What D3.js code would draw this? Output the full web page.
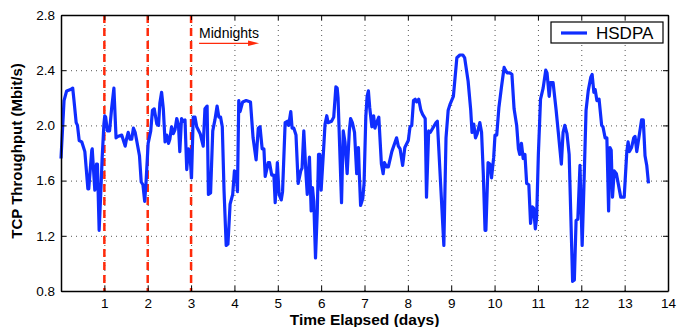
<!DOCTYPE html>
<html>
<head>
<meta charset="utf-8">
<script src="https://cdn.jsdelivr.net/npm/d3@7"></script>
<style>
  body { margin: 0; background: #fff; }
  svg { display: block; font-family: "Liberation Sans", Arial, sans-serif; }
</style>
</head>
<body>
<div id="chart"></div>
<script>
// elapsed time (days) and TCP throughput (Mbit/s)
var days = [0, 0.07, 0.13, 0.22, 0.27, 0.3, 0.35, 0.38, 0.42, 0.48, 0.55, 0.62, 0.64, 0.71, 0.72, 0.78, 0.82, 0.84, 0.88, 0.92,
  0.95, 0.99, 1.01, 1.03, 1.07, 1.12, 1.17, 1.22, 1.27, 1.31, 1.4, 1.48, 1.51, 1.55, 1.59, 1.63, 1.67, 1.71, 1.74, 1.81,
  1.85, 1.89, 1.93, 1.96, 2.01, 2.07, 2.11, 2.15, 2.21, 2.25, 2.28, 2.32, 2.36, 2.4, 2.44, 2.48, 2.51, 2.55, 2.59, 2.63,
  2.67, 2.71, 2.74, 2.78, 2.82, 2.86, 2.9, 2.94, 2.97, 3.01, 3.05, 3.09, 3.13, 3.21, 3.28, 3.32, 3.37, 3.4, 3.45, 3.5,
  3.55, 3.6, 3.64, 3.68, 3.72, 3.76, 3.81, 3.85, 3.9, 3.96, 4.0, 4.04, 4.07, 4.1, 4.13, 4.19, 4.27, 4.37, 4.43, 4.5,
  4.55, 4.59, 4.64, 4.68, 4.71, 4.78, 4.81, 4.86, 4.91, 4.94, 4.99, 5.03, 5.08, 5.11, 5.17, 5.22, 5.25, 5.3, 5.33, 5.37,
  5.42, 5.47, 5.53, 5.56, 5.6, 5.65, 5.68, 5.73, 5.77, 5.8, 5.83, 5.87, 5.91, 5.94, 5.97, 6.0, 6.05, 6.09, 6.13, 6.16,
  6.24, 6.29, 6.34, 6.37, 6.39, 6.47, 6.51, 6.55, 6.6, 6.65, 6.68, 6.72, 6.77, 6.82, 6.86, 6.88, 6.91, 6.96, 6.99, 7.03,
  7.06, 7.09, 7.12, 7.17, 7.21, 7.24, 7.28, 7.33, 7.39, 7.43, 7.46, 7.51, 7.55, 7.63, 7.74, 7.78, 7.82, 7.88, 7.93, 8.01,
  8.05, 8.09, 8.13, 8.17, 8.2, 8.25, 8.3, 8.34, 8.4, 8.43, 8.48, 8.52, 8.65, 8.68, 8.83, 8.88, 8.93, 8.97, 9.05, 9.13,
  9.2, 9.27, 9.31, 9.39, 9.45, 9.48, 9.52, 9.56, 9.6, 9.66, 9.7, 9.74, 9.78, 9.8, 9.85, 9.89, 9.93, 9.98, 10.01, 10.05,
  10.1, 10.16, 10.22, 10.25, 10.29, 10.35, 10.4, 10.45, 10.51, 10.55, 10.58, 10.62, 10.66, 10.7, 10.74, 10.79, 10.83, 10.87, 10.9, 10.94,
  10.97, 11.01, 11.06, 11.12, 11.18, 11.21, 11.26, 11.29, 11.35, 11.42, 11.47, 11.54, 11.58, 11.62, 11.67, 11.72, 11.8, 11.84, 11.88, 11.92,
  11.97, 12.02, 12.06, 12.11, 12.16, 12.22, 12.25, 12.29, 12.32, 12.36, 12.41, 12.47, 12.5, 12.55, 12.59, 12.63, 12.66, 12.69, 12.72, 12.76,
  12.81, 12.91, 12.95, 12.99, 13.05, 13.08, 13.11, 13.16, 13.21, 13.24, 13.28, 13.39, 13.43, 13.47, 13.51, 13.55];
var throughput = [1.76, 2.18, 2.25, 2.26, 2.27, 2.18, 2.02, 2.0, 1.89, 1.88, 1.81, 1.54, 1.54, 1.82, 1.83, 1.53, 1.72, 1.72, 1.24, 1.53,
  1.77, 2.01, 2.07, 2.06, 1.96, 1.96, 2.13, 2.27, 1.91, 1.92, 1.93, 1.85, 1.9, 1.95, 1.9, 1.9, 1.98, 1.95, 1.9, 1.78,
  1.59, 1.57, 1.45, 1.58, 1.87, 1.96, 2.11, 2.12, 2.01, 2.0, 2.16, 2.24, 2.12, 1.88, 1.93, 1.87, 1.9, 1.99, 1.94, 1.97,
  2.05, 2.0, 1.81, 2.05, 2.03, 2.04, 1.68, 1.83, 1.81, 1.62, 2.06, 2.06, 1.99, 1.94, 1.85, 2.12, 2.14, 1.5, 1.51, 1.96,
  2.04, 2.14, 2.06, 2.06, 1.99, 1.53, 1.13, 1.14, 1.43, 1.5, 1.67, 1.66, 1.52, 2.18, 2.1, 2.17, 2.18, 2.17, 1.91, 1.75,
  1.98, 1.99, 1.83, 1.83, 1.63, 1.73, 1.73, 1.64, 1.64, 1.44, 1.73, 1.5, 1.46, 1.52, 2.02, 2.03, 2.0, 2.1, 1.98, 1.98,
  1.93, 1.58, 1.67, 1.69, 1.96, 1.65, 1.5, 1.77, 1.38, 1.55, 1.45, 1.04, 1.37, 1.79, 1.79, 1.53, 1.79, 2.01, 2.07, 2.02,
  2.03, 2.06, 2.28, 2.27, 2.2, 1.44, 1.96, 1.88, 1.65, 1.96, 2.05, 2.02, 1.95, 1.65, 1.84, 1.65, 1.42, 1.47, 1.58, 2.06,
  2.21, 2.25, 2.13, 1.99, 2.07, 1.98, 2.02, 2.06, 1.72, 1.65, 1.73, 1.7, 1.7, 1.81, 1.91, 1.85, 1.83, 1.71, 1.84, 1.89,
  1.99, 2.0, 2.18, 2.19, 2.17, 2.19, 2.11, 2.08, 2.05, 1.48, 1.96, 1.95, 2.02, 2.03, 1.13, 1.91, 2.11, 2.15, 2.21, 2.49,
  2.51, 2.51, 2.49, 2.32, 2.11, 1.95, 2.01, 1.91, 1.94, 2.02, 1.95, 1.65, 1.24, 1.24, 1.73, 1.72, 1.62, 1.77, 1.93, 1.93,
  2.13, 2.28, 2.42, 2.4, 2.38, 2.38, 2.37, 2.12, 2.0, 1.83, 1.79, 1.87, 1.76, 1.79, 1.58, 1.57, 1.29, 1.41, 1.4, 1.25,
  1.33, 1.79, 2.19, 2.27, 2.4, 2.38, 2.21, 2.31, 2.31, 2.11, 1.95, 1.72, 1.95, 2.0, 1.94, 1.79, 0.87, 0.88, 1.31, 1.32,
  1.71, 1.13, 1.55, 2.11, 2.25, 2.35, 2.37, 2.24, 2.26, 2.18, 2.19, 2.0, 1.99, 1.91, 1.91, 1.38, 1.84, 1.82, 1.48, 1.67,
  1.65, 1.48, 1.48, 1.48, 1.81, 1.88, 1.81, 1.84, 1.91, 1.92, 1.81, 2.04, 2.04, 1.78, 1.71, 1.58];
var midnights = [1, 2, 3];
var xTicks = [1, 2, 3, 4, 5, 6, 7, 8, 9, 10, 11, 12, 13, 14];
var yTicks = [0.8, 1.2, 1.6, 2.0, 2.4, 2.8];
var seriesName = "HSDPA";

var margin = { top: 15, right: 21, bottom: 36, left: 61 },
    width = 689 - margin.left - margin.right,
    height = 327 - margin.top - margin.bottom;

var x = d3.scaleLinear().domain([0, 14]).range([0, width]);
var y = d3.scaleLinear().domain([0.8, 2.8]).range([height, 0]);

var svg = d3.select("#chart").append("svg")
    .attr("width", 689)
    .attr("height", 327)
    .append("g")
    .attr("transform", "translate(" + margin.left + "," + margin.top + ")");

// dotted grid
svg.append("g")
    .attr("class", "grid")
    .attr("transform", "translate(0," + height + ")")
    .call(d3.axisBottom(x).tickValues(xTicks.slice(0, -1)).tickSize(-height).tickFormat(""));
svg.append("g")
    .attr("class", "grid")
    .call(d3.axisLeft(y).tickValues(yTicks.slice(1, -1)).tickSize(-width).tickFormat(""));
svg.selectAll(".grid .domain").remove();
svg.selectAll(".grid line")
    .style("stroke", "#555")
    .style("stroke-width", 1)
    .style("stroke-dasharray", "1,4");

// midnight markers
svg.selectAll(".midnight")
    .data(midnights)
    .enter().append("line")
    .attr("class", "midnight")
    .attr("x1", function (d) { return x(d); })
    .attr("x2", function (d) { return x(d); })
    .attr("y1", 0)
    .attr("y2", height)
    .style("stroke", "#ff2a0a")
    .style("stroke-width", 2.5)
    .style("stroke-dasharray", "8,5");

// throughput line
var line = d3.line()
    .x(function (d, i) { return x(days[i]); })
    .y(function (d) { return y(d); });

svg.append("path")
    .attr("d", line(throughput))
    .style("fill", "none")
    .style("stroke", "#0f2dff")
    .style("stroke-width", 3.2)
    .style("stroke-linejoin", "round");

// axes, ticks pointing inwards like matlab
var fontSize = "13.5px";
svg.append("g")
    .attr("transform", "translate(0," + height + ")")
    .call(d3.axisBottom(x).tickValues(xTicks).tickSizeInner(-5).tickSizeOuter(0).tickPadding(7).tickFormat(d3.format("d")));
svg.append("g")
    .call(d3.axisTop(x).tickValues(xTicks).tickSizeInner(-5).tickSizeOuter(0).tickFormat(""));
svg.append("g")
    .call(d3.axisLeft(y).tickValues(yTicks).tickSizeInner(-5).tickSizeOuter(0).tickPadding(6).tickFormat(d3.format(".1f")));
svg.append("g")
    .attr("transform", "translate(" + width + ",0)")
    .call(d3.axisRight(y).tickValues(yTicks).tickSizeInner(-5).tickSizeOuter(0).tickFormat(""));
svg.selectAll(".tick text").style("font-size", fontSize).style("fill", "#000")
    .style("font-family", "'Liberation Sans', Arial, sans-serif");
svg.selectAll(".domain").style("stroke", "#000").style("stroke-width", 1.5);
svg.selectAll(".tick line").filter(function () { return !this.parentNode.parentNode.classList.contains("grid"); })
    .style("stroke", "#000");

// axis titles
svg.append("text")
    .attr("x", width / 2)
    .attr("y", height + 34)
    .style("text-anchor", "middle")
    .style("font-size", "15.5px")
    .style("font-weight", "bold")
    .text("Time Elapsed (days)");
svg.append("text")
    .attr("transform", "rotate(-90)")
    .attr("x", -height / 2 + 2)
    .attr("y", -39)
    .style("text-anchor", "middle")
    .style("font-size", "15px")
    .style("font-weight", "bold")
    .text("TCP Throughput (Mbit/s)");

// midnights annotation
var ann = svg.append("g").attr("transform", "translate(" + (x(3) + 8) + ",0)");
ann.append("text")
    .attr("x", 0)
    .attr("y", 23)
    .style("font-size", "14px")
    .text("Midnights");
ann.append("line")
    .attr("x1", 0).attr("x2", 52)
    .attr("y1", 28.3).attr("y2", 28.3)
    .style("stroke", "#ff2a0a")
    .style("stroke-width", 1.2);
ann.append("path")
    .attr("d", "M49,25.6 L60,28.3 L49,31 Z")
    .style("fill", "#ff2a0a");

// legend
var legend = svg.append("g").attr("transform", "translate(" + (width - 117) + ",7)");
legend.append("rect")
    .attr("width", 112)
    .attr("height", 21)
    .style("fill", "#fff")
    .style("stroke", "#000")
    .style("stroke-width", 1.2);
legend.append("line")
    .attr("x1", 10).attr("x2", 36)
    .attr("y1", 11).attr("y2", 11)
    .style("stroke", "#0f2dff")
    .style("stroke-width", 3.2);
legend.append("text")
    .attr("x", 45)
    .attr("y", 17)
    .style("font-size", "17px")
    .text(seriesName);
</script>
</body>
</html>
